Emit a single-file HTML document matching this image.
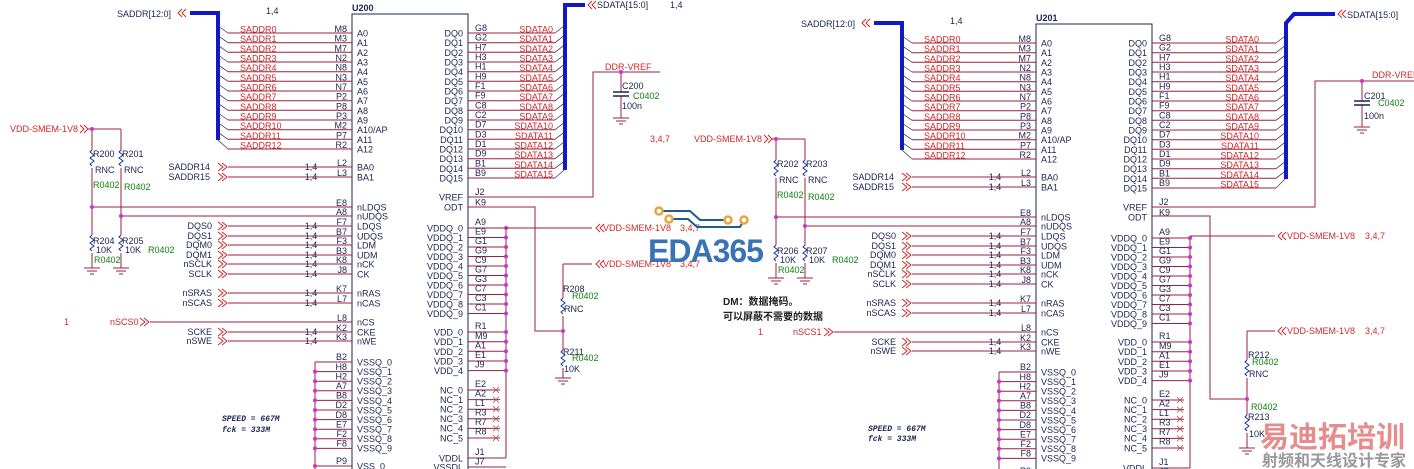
<!DOCTYPE html>
<html><head><meta charset="utf-8"><style>
html,body{margin:0;padding:0;background:#fff;width:1414px;height:469px;overflow:hidden}
svg{display:block;overflow:hidden}
text{font-family:"Liberation Sans","Noto Sans CJK SC",sans-serif;font-size:9px}
.p{fill:#1c2450}.n{fill:#d02828}.g{fill:#108010}.k{fill:#1c2450}
.w{stroke:#9b2040;stroke-width:1;fill:none}
.r{stroke:#2030a0;stroke-width:1;fill:none}
.ch{stroke:#d02828;stroke-width:1;fill:none}
.d{fill:#d030d0}
</style></head><body>
<svg width="1414" height="469" viewBox="0 0 1414 469" xmlns="http://www.w3.org/2000/svg">
<defs>
<g id="c">
 <path d="M352 469V14H468V469" fill="none" stroke="#1c2450" stroke-width="1"/>
 <path d="M190 13H218V140" stroke="#1018c8" stroke-width="4" fill="none"/>
 <path class="ch" d="M182 9l-4 4 4 4M186 9l-4 4 4 4"/>
 <text x="117" y="17" class="k">SADDR[12:0]</text>
 <text x="266" y="14" class="k">1,4</text>
 <path class="w" d="M228 33H352M228 42.7H352M228 52.3H352M228 62H352M228 71.7H352M228 81.3H352M228 91H352M228 100.7H352M228 110.3H352M228 120H352M228 129.7H352M228 139.3H352M228 149H352"/>
 <path stroke="#333" stroke-width="0.7" fill="none" d="M218 26L228 33M218 35.7L228 42.7M218 45.3L228 52.3M218 55L228 62M218 64.7L228 71.7M218 74.3L228 81.3M218 84L228 91M218 93.7L228 100.7M218 103.3L228 110.3M218 113L228 120M218 122.7L228 129.7M218 132.3L228 139.3M218 140L228 149"/>
 <text class="n"><tspan x="240" y="32.5">SADDR0</tspan><tspan x="240" y="42.2">SADDR1</tspan><tspan x="240" y="51.8">SADDR2</tspan><tspan x="240" y="61.5">SADDR3</tspan><tspan x="240" y="71.2">SADDR4</tspan><tspan x="240" y="80.8">SADDR5</tspan><tspan x="240" y="90.5">SADDR6</tspan><tspan x="240" y="100.2">SADDR7</tspan><tspan x="240" y="109.8">SADDR8</tspan><tspan x="240" y="119.5">SADDR9</tspan><tspan x="240" y="129.2">SADDR10</tspan><tspan x="240" y="138.8">SADDR11</tspan><tspan x="240" y="148.5">SADDR12</tspan></text>
 <text class="p" text-anchor="end"><tspan x="347" y="32">M8</tspan><tspan x="347" y="41.7">M3</tspan><tspan x="347" y="51.3">M7</tspan><tspan x="347" y="61">N2</tspan><tspan x="347" y="70.7">N8</tspan><tspan x="347" y="80.3">N3</tspan><tspan x="347" y="90">N7</tspan><tspan x="347" y="99.7">P2</tspan><tspan x="347" y="109.3">P8</tspan><tspan x="347" y="119">P3</tspan><tspan x="347" y="128.7">M2</tspan><tspan x="347" y="138.3">P7</tspan><tspan x="347" y="148">R2</tspan></text>
 <text class="p"><tspan x="357" y="36.5">A0</tspan><tspan x="357" y="46.2">A1</tspan><tspan x="357" y="55.8">A2</tspan><tspan x="357" y="65.5">A3</tspan><tspan x="357" y="75.2">A4</tspan><tspan x="357" y="84.8">A5</tspan><tspan x="357" y="94.5">A6</tspan><tspan x="357" y="104.2">A7</tspan><tspan x="357" y="113.8">A8</tspan><tspan x="357" y="123.5">A9</tspan><tspan x="357" y="133.2">A10/AP</tspan><tspan x="357" y="142.8">A11</tspan><tspan x="357" y="152.5">A12</tspan></text>
 <text class="p" text-anchor="end"><tspan x="463" y="36.5">DQ0</tspan><tspan x="463" y="46.2">DQ1</tspan><tspan x="463" y="55.8">DQ2</tspan><tspan x="463" y="65.5">DQ3</tspan><tspan x="463" y="75.2">DQ4</tspan><tspan x="463" y="84.8">DQ5</tspan><tspan x="463" y="94.5">DQ6</tspan><tspan x="463" y="104.2">DQ7</tspan><tspan x="463" y="113.8">DQ8</tspan><tspan x="463" y="123.5">DQ9</tspan><tspan x="463" y="133.2">DQ10</tspan><tspan x="463" y="142.8">DQ11</tspan><tspan x="463" y="152.5">DQ12</tspan><tspan x="463" y="162.2">DQ13</tspan><tspan x="463" y="171.8">DQ14</tspan><tspan x="463" y="181.5">DQ15</tspan><tspan x="463" y="200.5">VREF</tspan><tspan x="463" y="210.5">ODT</tspan></text>
 <text class="p"><tspan x="475" y="31">G8</tspan><tspan x="475" y="40.7">G2</tspan><tspan x="475" y="50.3">H7</tspan><tspan x="475" y="60">H3</tspan><tspan x="475" y="69.7">H1</tspan><tspan x="475" y="79.3">H9</tspan><tspan x="475" y="89">F1</tspan><tspan x="475" y="98.7">F9</tspan><tspan x="475" y="108.3">C8</tspan><tspan x="475" y="118">C2</tspan><tspan x="475" y="127.7">D7</tspan><tspan x="475" y="137.3">D3</tspan><tspan x="475" y="147">D1</tspan><tspan x="475" y="156.7">D9</tspan><tspan x="475" y="166.3">B1</tspan><tspan x="475" y="176">B9</tspan><tspan x="475" y="195">J2</tspan><tspan x="475" y="205.5">K9</tspan></text>
 <path class="w" d="M228 167H352M228 177H352M92 207H352M121 216H352M228 226H352M228 236H352M228 245H352M228 255H352M228 264H352M228 274H352M228 293H352M228 303H352M150 322H352M228 332H352M228 341H352"/>
 <path class="ch" d="M218 163l5 4-5 4M222 163l5 4-5 4M218 173l5 4-5 4M222 173l5 4-5 4M218 222l5 4-5 4M222 222l5 4-5 4M218 232l5 4-5 4M222 232l5 4-5 4M218 241l5 4-5 4M222 241l5 4-5 4M218 251l5 4-5 4M222 251l5 4-5 4M218 260l5 4-5 4M222 260l5 4-5 4M218 270l5 4-5 4M222 270l5 4-5 4M218 289l5 4-5 4M222 289l5 4-5 4M218 299l5 4-5 4M222 299l5 4-5 4M218 328l5 4-5 4M222 328l5 4-5 4M218 337l5 4-5 4M222 337l5 4-5 4M140 318l5 4-5 4M144 318l5 4-5 4"/>
 <text class="k" text-anchor="end"><tspan x="210" y="170">SADDR14</tspan><tspan x="210" y="180">SADDR15</tspan><tspan x="212" y="229">DQS0</tspan><tspan x="212" y="239">DQS1</tspan><tspan x="212" y="248">DQM0</tspan><tspan x="212" y="258">DQM1</tspan><tspan x="212" y="267">nSCLK</tspan><tspan x="212" y="277">SCLK</tspan><tspan x="212" y="296">nSRAS</tspan><tspan x="212" y="306">nSCAS</tspan><tspan x="212" y="335">SCKE</tspan><tspan x="212" y="344">nSWE</tspan></text>
 <text class="k" text-anchor="middle"><tspan x="311" y="170">1,4</tspan><tspan x="311" y="180">1,4</tspan><tspan x="311" y="229">1,4</tspan><tspan x="311" y="239">1,4</tspan><tspan x="311" y="248">1,4</tspan><tspan x="311" y="258">1,4</tspan><tspan x="311" y="267">1,4</tspan><tspan x="311" y="277">1,4</tspan><tspan x="311" y="296">1,4</tspan><tspan x="311" y="306">1,4</tspan><tspan x="311" y="335">1,4</tspan><tspan x="311" y="344">1,4</tspan></text>
 <text class="p" text-anchor="end"><tspan x="347" y="166">L2</tspan><tspan x="347" y="176">L3</tspan><tspan x="347" y="206">E8</tspan><tspan x="347" y="215">A8</tspan><tspan x="347" y="225">F7</tspan><tspan x="347" y="235">B7</tspan><tspan x="347" y="244">F3</tspan><tspan x="347" y="254">B3</tspan><tspan x="347" y="263">K8</tspan><tspan x="347" y="273">J8</tspan><tspan x="347" y="292">K7</tspan><tspan x="347" y="302">L7</tspan><tspan x="347" y="321">L8</tspan><tspan x="347" y="331">K2</tspan><tspan x="347" y="340">K3</tspan></text>
 <text class="p"><tspan x="357" y="170.5">BA0</tspan><tspan x="357" y="180.5">BA1</tspan><tspan x="357" y="210.5">nLDQS</tspan><tspan x="357" y="219.5">nUDQS</tspan><tspan x="357" y="229.5">LDQS</tspan><tspan x="357" y="239.5">UDQS</tspan><tspan x="357" y="248.5">LDM</tspan><tspan x="357" y="258.5">UDM</tspan><tspan x="357" y="267.5">nCK</tspan><tspan x="357" y="277.5">CK</tspan><tspan x="357" y="296.5">nRAS</tspan><tspan x="357" y="306.5">nCAS</tspan><tspan x="357" y="325.5">nCS</tspan><tspan x="357" y="335.5">CKE</tspan><tspan x="357" y="344.5">nWE</tspan></text>
 <path class="w" d="M315 362H352M315 371.6H352M315 381.2H352M315 390.8H352M315 400.4H352M315 410H352M315 419.6H352M315 429.2H352M315 438.8H352M315 448.4H352M315 466H352M315 362V469"/>
 <g class="d"><circle cx="315" cy="371.6" r="2"/><circle cx="315" cy="381.2" r="2"/><circle cx="315" cy="390.8" r="2"/><circle cx="315" cy="400.4" r="2"/><circle cx="315" cy="410" r="2"/><circle cx="315" cy="419.6" r="2"/><circle cx="315" cy="429.2" r="2"/><circle cx="315" cy="438.8" r="2"/><circle cx="315" cy="448.4" r="2"/><circle cx="315" cy="466" r="2"/></g>
 <text class="p" text-anchor="end"><tspan x="347" y="360">B2</tspan><tspan x="347" y="370">H8</tspan><tspan x="347" y="379.5">H2</tspan><tspan x="347" y="389">A7</tspan><tspan x="347" y="398.5">B8</tspan><tspan x="347" y="408">D2</tspan><tspan x="347" y="418">D8</tspan><tspan x="347" y="427.5">E7</tspan><tspan x="347" y="437">F2</tspan><tspan x="347" y="446.5">F8</tspan><tspan x="347" y="464">P9</tspan></text>
 <text class="p"><tspan x="357" y="365.5">VSSQ_0</tspan><tspan x="357" y="375">VSSQ_1</tspan><tspan x="357" y="384.5">VSSQ_2</tspan><tspan x="357" y="394">VSSQ_3</tspan><tspan x="357" y="404">VSSQ_4</tspan><tspan x="357" y="413.5">VSSQ_5</tspan><tspan x="357" y="423">VSSQ_6</tspan><tspan x="357" y="432.5">VSSQ_7</tspan><tspan x="357" y="442">VSSQ_8</tspan><tspan x="357" y="451.5">VSSQ_9</tspan><tspan x="357" y="469.5">VSS_0</tspan></text>
 <path class="w" d="M468 228H506M468 237.5H506M468 247H506M468 256.5H506M468 266H506M468 275.5H506M468 285H506M468 294.5H506M468 304H506M468 313.5H506M468 332H506M468 341.7H506M468 351.3H506M468 361H506M468 370.6H506M468 390H500M468 399.6H500M468 409.2H500M468 418.8H500M468 428.4H500M468 438H500M468 458H506M468 467H506M506 228V458"/>
 <path stroke="#b05050" stroke-width="0.8" d="M493 387l6 6M499 387l-6 6M493 396.6l6 6M499 396.6l-6 6M493 406.2l6 6M499 406.2l-6 6M493 415.8l6 6M499 415.8l-6 6M493 425.4l6 6M499 425.4l-6 6M493 435l6 6M499 435l-6 6"/>
 <g class="d"><circle cx="506" cy="228" r="2"/><circle cx="506" cy="237.5" r="2"/><circle cx="506" cy="247" r="2"/><circle cx="506" cy="256.5" r="2"/><circle cx="506" cy="266" r="2"/><circle cx="506" cy="275.5" r="2"/><circle cx="506" cy="285" r="2"/><circle cx="506" cy="294.5" r="2"/><circle cx="506" cy="304" r="2"/><circle cx="506" cy="313.5" r="2"/><circle cx="506" cy="332" r="2"/><circle cx="506" cy="341.7" r="2"/><circle cx="506" cy="351.3" r="2"/><circle cx="506" cy="361" r="2"/><circle cx="506" cy="370.6" r="2"/></g>
 <text class="p" text-anchor="end"><tspan x="463" y="231.5">VDDQ_0</tspan><tspan x="463" y="241">VDDQ_1</tspan><tspan x="463" y="250.5">VDDQ_2</tspan><tspan x="463" y="260">VDDQ_3</tspan><tspan x="463" y="269.5">VDDQ_4</tspan><tspan x="463" y="279">VDDQ_5</tspan><tspan x="463" y="288.5">VDDQ_6</tspan><tspan x="463" y="298">VDDQ_7</tspan><tspan x="463" y="307.5">VDDQ_8</tspan><tspan x="463" y="317">VDDQ_9</tspan><tspan x="463" y="335.5">VDD_0</tspan><tspan x="463" y="345">VDD_1</tspan><tspan x="463" y="355">VDD_2</tspan><tspan x="463" y="364.5">VDD_3</tspan><tspan x="463" y="374">VDD_4</tspan><tspan x="463" y="393.5">NC_0</tspan><tspan x="463" y="403">NC_1</tspan><tspan x="463" y="412.5">NC_2</tspan><tspan x="463" y="422">NC_3</tspan><tspan x="463" y="431.5">NC_4</tspan><tspan x="463" y="441.5">NC_5</tspan><tspan x="463" y="461.5">VDDL</tspan><tspan x="463" y="470.5">VSSDL</tspan></text>
 <text class="p"><tspan x="475" y="225">A9</tspan><tspan x="475" y="234.5">E9</tspan><tspan x="475" y="244">G1</tspan><tspan x="475" y="253.5">G9</tspan><tspan x="475" y="263">C9</tspan><tspan x="475" y="272.5">G7</tspan><tspan x="475" y="282">G3</tspan><tspan x="475" y="291.5">C7</tspan><tspan x="475" y="301">C3</tspan><tspan x="475" y="310.5">C1</tspan><tspan x="475" y="329">R1</tspan><tspan x="475" y="339">M9</tspan><tspan x="475" y="348.5">A1</tspan><tspan x="475" y="358">E1</tspan><tspan x="475" y="367.5">J9</tspan><tspan x="475" y="387">E2</tspan><tspan x="475" y="396.5">A2</tspan><tspan x="475" y="406">L1</tspan><tspan x="475" y="415.5">R3</tspan><tspan x="475" y="425">R7</tspan><tspan x="475" y="434.5">R8</tspan><tspan x="475" y="455">J1</tspan><tspan x="475" y="464.5">J7</tspan></text>
 <path class="ch" d="M80 125l4 4-4 4M84 125l4 4-4 4"/>
 <text x="10" y="132" class="n">VDD-SMEM-1V8</text>
 <path class="w" d="M88 129H121M92 129V150M92 168V235M92 253V268M121 129V150M121 168V235M121 253V268"/>
 <path class="r" d="M92 150l-2 2 4 3-4 3 4 3-4 3 2 2M121 150l-2 2 4 3-4 3 4 3-4 3 2 2M92 235l-2 2 4 3-4 3 4 3-4 3 2 2M121 235l-2 2 4 3-4 3 4 3-4 3 2 2"/>
 <path stroke="#9b2040" fill="none" d="M84 268h16M87 271h10M90 274h4M113 268h16M116 271h10M119 274h4"/>
 <g class="d"><circle cx="92" cy="129" r="2"/><circle cx="92" cy="207" r="2"/><circle cx="121" cy="216" r="2"/></g>
 <text class="k"><tspan x="95" y="173">RNC</tspan><tspan x="124" y="173">RNC</tspan><tspan x="96" y="253">10K</tspan><tspan x="125" y="253">10K</tspan></text>
 <text class="g"><tspan x="93" y="188">R0402</tspan><tspan x="124" y="190">R0402</tspan><tspan x="94" y="263">R0402</tspan><tspan x="148" y="253">R0402</tspan></text>
</g>
</defs>

<use href="#c"/>
<use href="#c" transform="translate(684,10)"/>

<text x="352" y="11" class="k" font-weight="bold">U200</text>
<text x="1036" y="21" class="k" font-weight="bold">U201</text>
<text class="k"><tspan x="93" y="157">R200</tspan><tspan x="122" y="157">R201</tspan><tspan x="93" y="244">R204</tspan><tspan x="122" y="244">R205</tspan><tspan x="777" y="167">R202</tspan><tspan x="806" y="167">R203</tspan><tspan x="777" y="254">R206</tspan><tspan x="806" y="254">R207</tspan></text>
<text class="n"><tspan x="64" y="325">1</tspan><tspan x="110" y="325">nSCS0</tspan><tspan x="758" y="335">1</tspan><tspan x="793" y="335">nSCS1</tspan></text>

<path class="w" d="M468 33H555M468 42.7H555M468 52.3H555M468 62H555M468 71.7H555M468 81.3H555M468 91H555M468 100.7H555M468 110.3H555M468 120H555M468 129.7H555M468 139.3H555M468 149H555M468 158.7H555M468 168.3H555M468 178H555"/>
<path stroke="#333" stroke-width="0.7" d="M555 33l9-7M555 42.7l9-7M555 52.3l9-7M555 62l9-7M555 71.7l9-7M555 81.3l9-7M555 91l9-7M555 100.7l9-7M555 110.3l9-7M555 120l9-7M555 129.7l9-7M555 139.3l9-7M555 149l9-7M555 158.7l9-7M555 168.3l9-7M555 178l9-8"/>
<path d="M585 5H565V170" stroke="#1018c8" stroke-width="4" fill="none"/>
<path class="ch" d="M592 1l-4 4 4 4M596 1l-4 4 4 4"/>
<text x="597" y="8" class="k">SDATA[15:0]</text><text x="670" y="8" class="k">1,4</text>
<text class="n" text-anchor="end"><tspan x="553" y="32.5">SDATA0</tspan><tspan x="553" y="42.2">SDATA1</tspan><tspan x="553" y="51.8">SDATA2</tspan><tspan x="553" y="61.5">SDATA3</tspan><tspan x="553" y="71.2">SDATA4</tspan><tspan x="553" y="80.8">SDATA5</tspan><tspan x="553" y="90.5">SDATA6</tspan><tspan x="553" y="100.2">SDATA7</tspan><tspan x="553" y="109.8">SDATA8</tspan><tspan x="553" y="119.5">SDATA9</tspan><tspan x="553" y="129.2">SDATA10</tspan><tspan x="553" y="138.8">SDATA11</tspan><tspan x="553" y="148.5">SDATA12</tspan><tspan x="553" y="158.2">SDATA13</tspan><tspan x="553" y="167.8">SDATA14</tspan><tspan x="553" y="177.5">SDATA15</tspan></text>
<path class="w" d="M468 197H593V72H660M621 72V92M621 96V118M468 207H535V331H563M506 228H592M563 264H592M563 264V298M563 316V350M563 368V378"/>
<path stroke="#1c2450" stroke-width="1.5" d="M613 92h16M613 96h16"/>
<path stroke="#9b2040" fill="none" d="M613 118h16M616 121h10M619 124h4M555 378h16M558 381h10M561 384h4"/>
<path class="r" d="M563 298l-2 2 4 3-4 3 4 3-4 3 2 2M563 350l-2 2 4 3-4 3 4 3-4 3 2 2"/>
<g class="d"><circle cx="621" cy="72" r="2"/><circle cx="563" cy="331" r="2"/></g>
<text class="n"><tspan x="605" y="70">DDR-VREF</tspan><tspan x="650" y="142">3,4,7</tspan><tspan x="603" y="231">VDD-SMEM-1V8</tspan><tspan x="680" y="231">3,4,7</tspan><tspan x="603" y="267">VDD-SMEM-1V8</tspan><tspan x="680" y="267">3,4,7</tspan></text>
<path class="ch" d="M600 224l-4 4 4 4M604 224l-4 4 4 4M600 260l-4 4 4 4M604 260l-4 4 4 4"/>
<text class="k"><tspan x="622" y="89">C200</tspan><tspan x="622" y="109">100n</tspan><tspan x="563" y="292">R208</tspan><tspan x="564" y="312">RNC</tspan><tspan x="563" y="355">R211</tspan><tspan x="564" y="372">10K</tspan></text>
<text class="g"><tspan x="633" y="99">C0402</tspan><tspan x="572" y="299">R0402</tspan><tspan x="572" y="361">R0402</tspan></text>
<text class="k" style="font-family:'Liberation Mono',monospace;font-style:italic;font-weight:bold;font-size:8px"><tspan x="222" y="421">SPEED = 667M</tspan><tspan x="222" y="432">fck = 333M</tspan><tspan x="868" y="431">SPEED = 667M</tspan><tspan x="868" y="441">fck = 333M</tspan></text>

<path class="w" d="M1152 43H1276M1152 52.7H1276M1152 62.3H1276M1152 72H1276M1152 81.7H1276M1152 91.3H1276M1152 101H1276M1152 110.7H1276M1152 120.3H1276M1152 130H1276M1152 139.7H1276M1152 149.3H1276M1152 159H1276M1152 168.7H1276M1152 178.3H1276M1152 188H1276"/>
<path stroke="#333" stroke-width="0.7" d="M1276 43l9-7M1276 52.7l9-7M1276 62.3l9-7M1276 72l9-7M1276 81.7l9-7M1276 91.3l9-7M1276 101l9-7M1276 110.7l9-7M1276 120.3l9-7M1276 130l9-7M1276 139.7l9-7M1276 149.3l9-7M1276 159l9-7M1276 168.7l9-7M1276 178.3l9-7M1276 188l9-9"/>
<path d="M1335 14H1294L1286 23V179" stroke="#1018c8" stroke-width="4" fill="none"/>
<path class="ch" d="M1342 10l-4 4 4 4M1346 10l-4 4 4 4"/>
<text x="1347" y="18" class="k">SDATA[15:0]</text>
<text class="n" text-anchor="end"><tspan x="1259" y="42.5">SDATA0</tspan><tspan x="1259" y="52.2">SDATA1</tspan><tspan x="1259" y="61.8">SDATA2</tspan><tspan x="1259" y="71.5">SDATA3</tspan><tspan x="1259" y="81.2">SDATA4</tspan><tspan x="1259" y="90.8">SDATA5</tspan><tspan x="1259" y="100.5">SDATA6</tspan><tspan x="1259" y="110.2">SDATA7</tspan><tspan x="1259" y="119.8">SDATA8</tspan><tspan x="1259" y="129.5">SDATA9</tspan><tspan x="1259" y="139.2">SDATA10</tspan><tspan x="1259" y="148.8">SDATA11</tspan><tspan x="1259" y="158.5">SDATA12</tspan><tspan x="1259" y="168.2">SDATA13</tspan><tspan x="1259" y="177.8">SDATA14</tspan><tspan x="1259" y="187.5">SDATA15</tspan></text>
<path class="w" d="M1152 207H1315V81H1414M1362 81V101M1362 105V127M1152 216H1210V399H1247M1190 236H1275M1247 331H1275M1247 331V360M1247 378V415M1247 433V448"/>
<path stroke="#1c2450" stroke-width="1.5" d="M1354 101h16M1354 105h16"/>
<path stroke="#9b2040" fill="none" d="M1354 127h16M1357 130h10M1360 133h4M1239 448h16M1242 451h10M1245 454h4"/>
<path class="r" d="M1247 360l-2 2 4 3-4 3 4 3-4 3 2 2M1247 415l-2 2 4 3-4 3 4 3-4 3 2 2"/>
<g class="d"><circle cx="1362" cy="81" r="2"/><circle cx="1247" cy="399" r="2"/></g>
<path class="ch" d="M1282 232l-4 4 4 4M1286 232l-4 4 4 4M1282 327l-4 4 4 4M1286 327l-4 4 4 4"/>
<text class="n"><tspan x="1372" y="78">DDR-VREF</tspan><tspan x="1287" y="239">VDD-SMEM-1V8</tspan><tspan x="1365" y="239">3,4,7</tspan><tspan x="1287" y="334">VDD-SMEM-1V8</tspan><tspan x="1365" y="334">3,4,7</tspan></text>
<text class="k"><tspan x="1364" y="99">C201</tspan><tspan x="1364" y="119">100n</tspan><tspan x="1248" y="358">R212</tspan><tspan x="1249" y="377">RNC</tspan><tspan x="1248" y="420">R213</tspan><tspan x="1249" y="437">10K</tspan></text>
<text class="g"><tspan x="1378" y="106">C0402</tspan><tspan x="1252" y="365">R0402</tspan><tspan x="1251" y="410">R0402</tspan></text>

<text x="723" y="305" fill="#222" style="font-size:10px;font-weight:bold">DM：数据掩码。</text>
<text x="723" y="320" fill="#222" style="font-size:10px;font-weight:bold">可以屏蔽不需要的数据</text>

<path d="M659 211H690L700 220H728M669 219H688L697 227H740L744 220" stroke="#1e5a9a" stroke-width="2" fill="none"/>
<g fill="#fff" stroke="#e8a53a" stroke-width="2.5"><circle cx="659" cy="211" r="3.5"/><circle cx="669" cy="219" r="3.5"/><circle cx="728" cy="220" r="3.5"/><circle cx="744" cy="220" r="3.5"/></g>
<text x="648" y="262" fill="#2a68ad" opacity="0.92" style="font-size:32px;font-weight:bold;letter-spacing:-1px">EDA365</text>

<text x="1260" y="447" fill="#e07070" opacity="0.8" style="font-size:29px;font-weight:bold">易迪拓培训</text>
<text x="1262" y="466" fill="#999" style="font-size:16px;font-weight:bold">射频和天线设计专家</text>
</svg>
</body></html>
